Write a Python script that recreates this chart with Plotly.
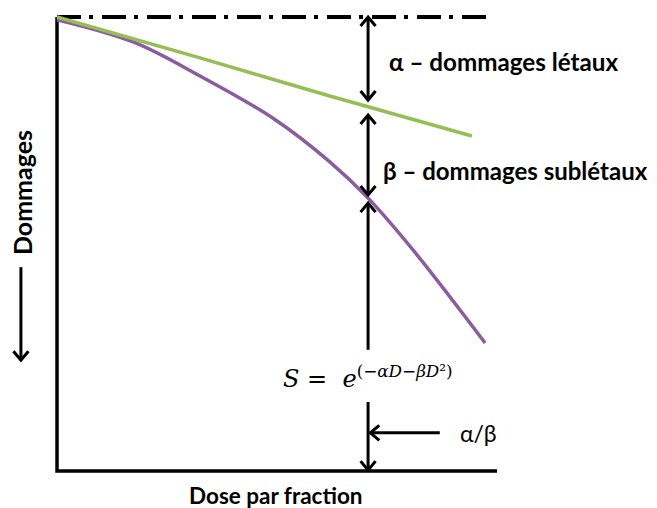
import plotly.graph_objects as go
import math

# ---------------- data ----------------
# Conceptual axes: dose (0..10) on x, damage (0 at top, -10 at bottom) on y
dose_green = [0.0, 3.25, 6.20, 9.43]
dmg_green = [0.0, -0.90, -1.74, -2.62]

dose_purple = [0.0, 1.73, 3.25, 4.91, 6.20, 7.07, 8.09, 9.73]
dmg_purple = [-0.06, -0.55, -1.30, -2.23, -3.19, -3.99, -5.13, -7.18]

ref_line_x = [0.0, 9.91]
ref_line_y = [0.0, 0.0]

# vertical arrows: x, y_start, y_end, head at start, head at end
arrow_x = [7.07, 7.07, 7.07, 7.07, -0.82]
arrow_y0 = [0.0, -2.16, -4.10, -8.48, -5.51]
arrow_y1 = [-1.83, -3.92, -7.33, -9.98, -7.56]
arrow_head0 = [True, True, True, False, False]
arrow_head1 = [True, True, False, True, True]

# horizontal arrow pointing at alpha/beta
harrow_x = [8.70, 7.12]
harrow_y = [-9.16, -9.16]

labels = ["α – dommages létaux", "β – dommages sublétaux"]
label_x = [7.52, 7.38]
label_y = [-0.99, -3.37]
label_size = [24.2, 24]

# pixel scale of the drawing area (for arrowhead geometry only)
PX_X = 44.0
PX_Y = 45.4
OFF = 8  # page body margin
W, H = 657 - OFF, 508 - OFF
X_RANGE = [(OFF - 57) / PX_X, (657 - 57) / PX_X]
Y_RANGE = [-(508 - 17) / PX_Y, (17 - OFF) / PX_Y]

GREEN = "#95BE55"
PURPLE = "#8B5C9E"

fig = go.Figure()

# axes
fig.add_trace(go.Scatter(x=[0, 0, 10], y=[0, -10, -10], mode="lines",
                         line=dict(color="black", width=3.5), hoverinfo="skip"))

# reference dash-dot line
fig.add_trace(go.Scatter(x=ref_line_x, y=ref_line_y, mode="lines",
                         line=dict(color="black", width=4, dash="24px,8px,4px,9px"),
                         hoverinfo="skip"))

# curves
fig.add_trace(go.Scatter(x=dose_purple, y=dmg_purple, mode="lines",
                         line=dict(color=PURPLE, width=3.5, shape="spline"),
                         hoverinfo="skip"))
fig.add_trace(go.Scatter(x=dose_green, y=dmg_green, mode="lines",
                         line=dict(color=GREEN, width=3.5, shape="spline"),
                         hoverinfo="skip"))


def head(tip, tail, length=9.0, half=7.5):
    tx, ty = tip[0] * PX_X, -tip[1] * PX_Y
    sx, sy = tail[0] * PX_X, -tail[1] * PX_Y
    dx, dy = tx - sx, ty - sy
    n = math.hypot(dx, dy)
    ux, uy = dx / n, dy / n
    px, py = -uy, ux
    p1 = (tx - length * ux + half * px, ty - length * uy + half * py)
    p2 = (tx - length * ux - half * px, ty - length * uy - half * py)
    xs = [p1[0] / PX_X, tip[0], p2[0] / PX_X]
    ys = [-p1[1] / PX_Y, tip[1], -p2[1] / PX_Y]
    return xs, ys


def draw_arrow(p0, p1, h0, h1):
    fig.add_trace(go.Scatter(x=[p0[0], p1[0]], y=[p0[1], p1[1]], mode="lines",
                             line=dict(color="black", width=3), hoverinfo="skip"))
    for flag, tip, tail in ((h0, p0, p1), (h1, p1, p0)):
        if flag:
            xs, ys = head(tip, tail)
            fig.add_trace(go.Scatter(x=xs, y=ys, mode="lines",
                                     line=dict(color="black", width=3),
                                     hoverinfo="skip"))


for x, y0, y1, h0, h1 in zip(arrow_x, arrow_y0, arrow_y1, arrow_head0, arrow_head1):
    draw_arrow((x, y0), (x, y1), h0, h1)

draw_arrow((harrow_x[0], harrow_y[0]), (harrow_x[1], harrow_y[1]), False, True)

FONT = "Lato"
for t, x, y, s in zip(labels, label_x, label_y, label_size):
    fig.add_annotation(x=x, y=y, text="<b>" + t + "</b>", showarrow=False,
                       xanchor="left", yanchor="middle", borderpad=0,
                       font=dict(family=FONT, size=s, color="black"))

fig.add_annotation(x=-0.80, y=-3.86, text="<b>Dommages</b>", textangle=-90,
                   showarrow=False, font=dict(family=FONT, size=25, color="black"))
fig.add_annotation(x=4.98, y=-10.55, text="<b>Dose par fraction</b>",
                   showarrow=False, borderpad=0,
                   font=dict(family=FONT, size=22.5, color="black"))
fig.add_annotation(x=4.93, y=-7.93,
                   text="<i>S</i> =  <i>e</i><sup>(−<i>αD</i>−<i>βD</i>²)</sup>",
                   showarrow=False, xanchor="left", yanchor="middle",
                   bgcolor="white", borderpad=8,
                   font=dict(family="DejaVu Serif", size=24, color="black"))
fig.add_annotation(x=9.11, y=-9.16, text="α/β", showarrow=False,
                   xanchor="left", yanchor="middle",
                   font=dict(family=FONT, size=23, color="black"))

fig.update_layout(width=W, height=H, margin=dict(l=0, r=0, t=0, b=0),
                  paper_bgcolor="white", plot_bgcolor="white", showlegend=False,
                  xaxis=dict(range=X_RANGE, visible=False, fixedrange=True),
                  yaxis=dict(range=Y_RANGE, visible=False, fixedrange=True))

fig.write_html("out.html")
